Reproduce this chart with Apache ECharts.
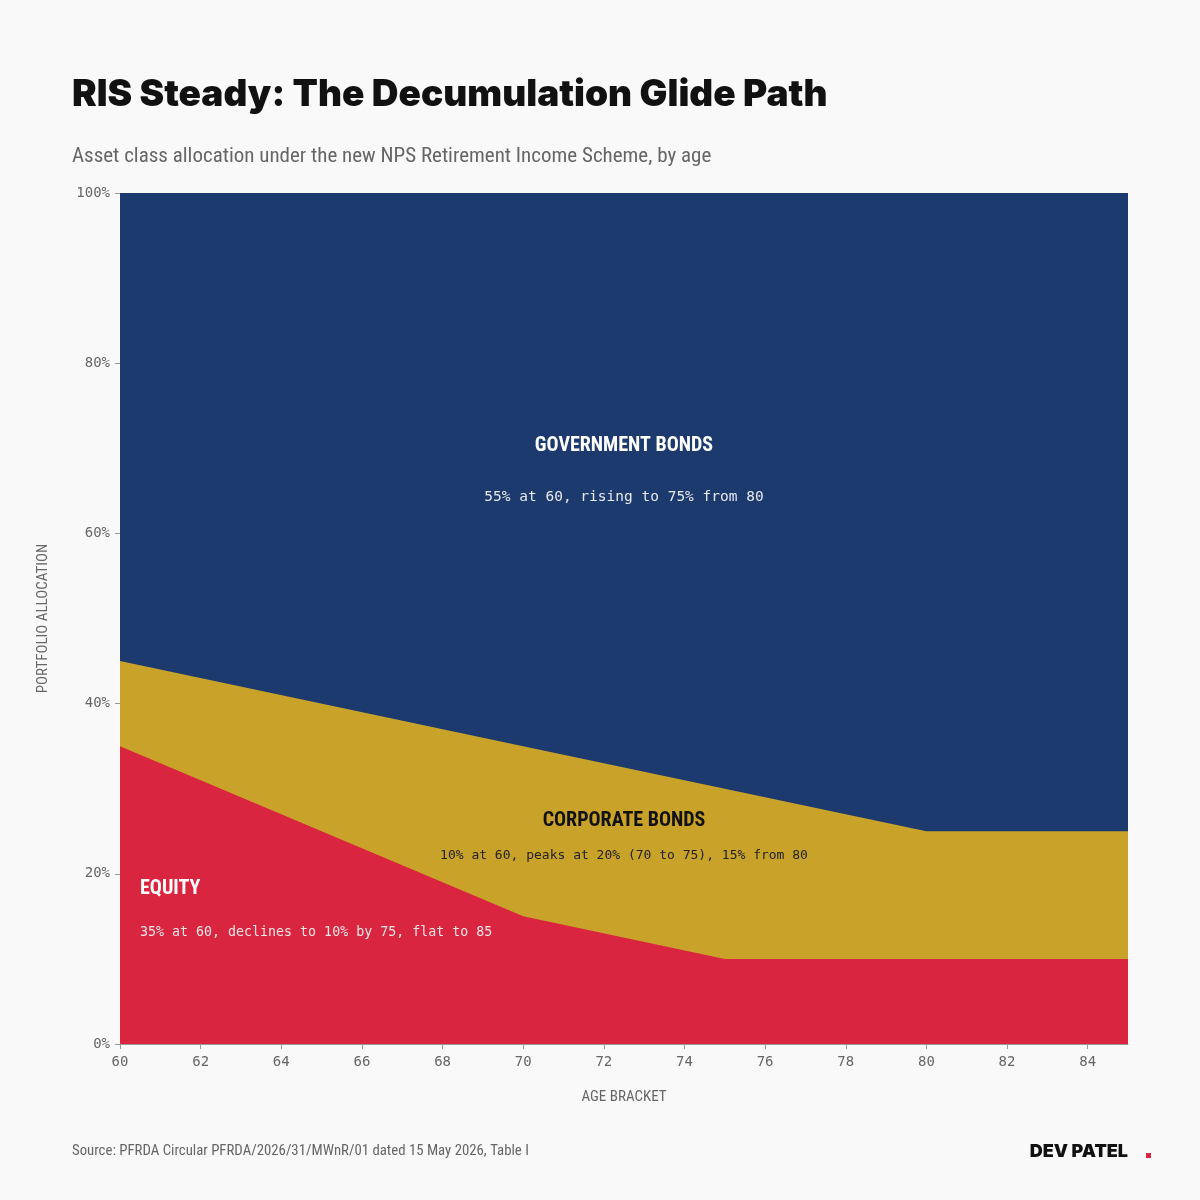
<!DOCTYPE html>
<html>
<head>
    <meta charset="utf-8">
    <title>RIS Steady glide path</title>
    <script src="https://cdn.jsdelivr.net/npm/echarts@6/dist/echarts.min.js"></script>
    <style>
        body { margin: 0; background: #f9f9f9; }
    </style>
</head>
<body>
<div id="main" style="width: 1200px;height:1200px;"></div>
<script type="text/javascript">
    // ages where the allocation changes
    var ages = [60, 70, 75, 80, 85];
    var equity = [35, 15, 10, 10, 10];
    var corporate = [10, 20, 20, 15, 15];
    var government = [55, 65, 70, 75, 75];
    var xTicks = [60, 62, 64, 66, 68, 70, 72, 74, 76, 78, 80, 82, 84];
    var yTicks = [0, 20, 40, 60, 80, 100];

    var narrow = '"Roboto Condensed", "Noto Sans", sans-serif';
    var mono = '"DejaVu Sans Mono", monospace';
    var heavy = 'Inter, "DejaVu Sans", sans-serif';

    // running totals, so each band is filled from 0 up to its own top
    // and painted in order top band first
    var topEquity = equity.slice();
    var topCorporate = equity.map(function (v, i) { return v + corporate[i]; });
    var topGovernment = topCorporate.map(function (v, i) { return v + government[i]; });

    function pairs(vals) {
        return ages.map(function (a, i) { return [a, vals[i]]; });
    }

    function areaSeries(name, vals, color, z) {
        return {
            name: name,
            type: 'line',
            data: pairs(vals),
            symbol: 'none',
            z: z,
            lineStyle: { width: 0 },
            areaStyle: { color: color, opacity: 1, origin: 'start' },
            itemStyle: { color: color },
            silent: true
        };
    }

    var chartDom = document.getElementById('main');
    var myChart = echarts.init(chartDom);

    var option = {
        backgroundColor: '#f9f9f9',
        animation: false,
        grid: { left: 120, right: 72, top: 193, bottom: 156 },
        xAxis: {
            type: 'value',
            min: 60,
            max: 85,
            interval: 2,
            name: 'AGE BRACKET',
            nameLocation: 'middle',
            nameGap: 46,
            nameTextStyle: { color: '#666', fontFamily: narrow, fontSize: 15 },
            axisLine: { show: true, lineStyle: { color: '#999' } },
            axisTick: { show: true, length: 5, lineStyle: { color: '#999' }, customValues: xTicks },
            axisLabel: {
                color: '#666', fontFamily: mono, fontSize: 14, margin: 11,
                customValues: xTicks
            },
            splitLine: { show: false }
        },
        yAxis: {
            type: 'value',
            min: 0,
            max: 100,
            interval: 20,
            name: 'PORTFOLIO ALLOCATION',
            nameLocation: 'middle',
            nameGap: 69,
            nameTextStyle: { color: '#666', fontFamily: narrow, fontSize: 15 },
            axisLine: { show: false },
            axisTick: { show: true, length: 5, lineStyle: { color: '#999' }, customValues: yTicks },
            axisLabel: {
                color: '#666', fontFamily: mono, fontSize: 14, margin: 10,
                customValues: yTicks,
                formatter: '{value}%'
            },
            splitLine: { show: false }
        },
        series: [
            areaSeries('Government bonds', topGovernment, '#1c3a6e', 1),
            areaSeries('Corporate bonds', topCorporate, '#c9a229', 2),
            areaSeries('Equity', topEquity, '#d9253f', 3)
        ],
        graphic: [
            {
                type: 'text', left: 72, top: 76,
                style: { text: 'RIS Steady: The Decumulation Glide Path', fill: '#111',
                    font: '900 37px ' + heavy }
            },
            {
                type: 'text', left: 72, top: 146,
                style: { text: 'Asset class allocation under the new NPS Retirement Income Scheme, by age',
                    fill: '#666', font: '21px ' + narrow }
            },
            {
                type: 'text', x: 624, y: 446, z: 10,
                style: { text: 'GOVERNMENT BONDS', fill: '#fff', align: 'center', verticalAlign: 'middle',
                    font: 'bold 20px ' + narrow }
            },
            {
                type: 'text', x: 624, y: 497, z: 10,
                style: { text: '55% at 60, rising to 75% from 80', fill: '#e6e9f0', align: 'center', verticalAlign: 'middle',
                    font: '14.5px ' + mono }
            },
            {
                type: 'text', x: 624, y: 821, z: 10,
                style: { text: 'CORPORATE BONDS', fill: '#111', align: 'center', verticalAlign: 'middle',
                    font: 'bold 20px ' + narrow }
            },
            {
                type: 'text', x: 624, y: 856, z: 10,
                style: { text: '10% at 60, peaks at 20% (70 to 75), 15% from 80', fill: '#222', align: 'center', verticalAlign: 'middle',
                    font: '13px ' + mono }
            },
            {
                type: 'text', x: 140, y: 889, z: 10,
                style: { text: 'EQUITY', fill: '#fff', verticalAlign: 'middle',
                    font: 'bold 20px ' + narrow }
            },
            {
                type: 'text', x: 140, y: 933, z: 10,
                style: { text: '35% at 60, declines to 10% by 75, flat to 85', fill: '#f5e6e8', verticalAlign: 'middle',
                    font: '13.3px ' + mono }
            },
            {
                type: 'text', x: 72, y: 1151,
                style: { text: 'Source: PFRDA Circular PFRDA/2026/31/MWnR/01 dated 15 May 2026, Table I',
                    fill: '#666', verticalAlign: 'middle', font: '14.8px ' + narrow }
            },
            {
                type: 'text', x: 1128, y: 1152,
                style: { text: 'DEV PATEL', fill: '#111', align: 'right', verticalAlign: 'middle',
                    font: '900 18px ' + heavy }
            },
            {
                type: 'rect', shape: { x: 1146, y: 1153, width: 5, height: 5 },
                style: { fill: '#d9253f' }
            }
        ]
    };

    if (option && typeof option === 'object') {
        myChart.setOption(option);
    }
</script>
</body>
</html>
